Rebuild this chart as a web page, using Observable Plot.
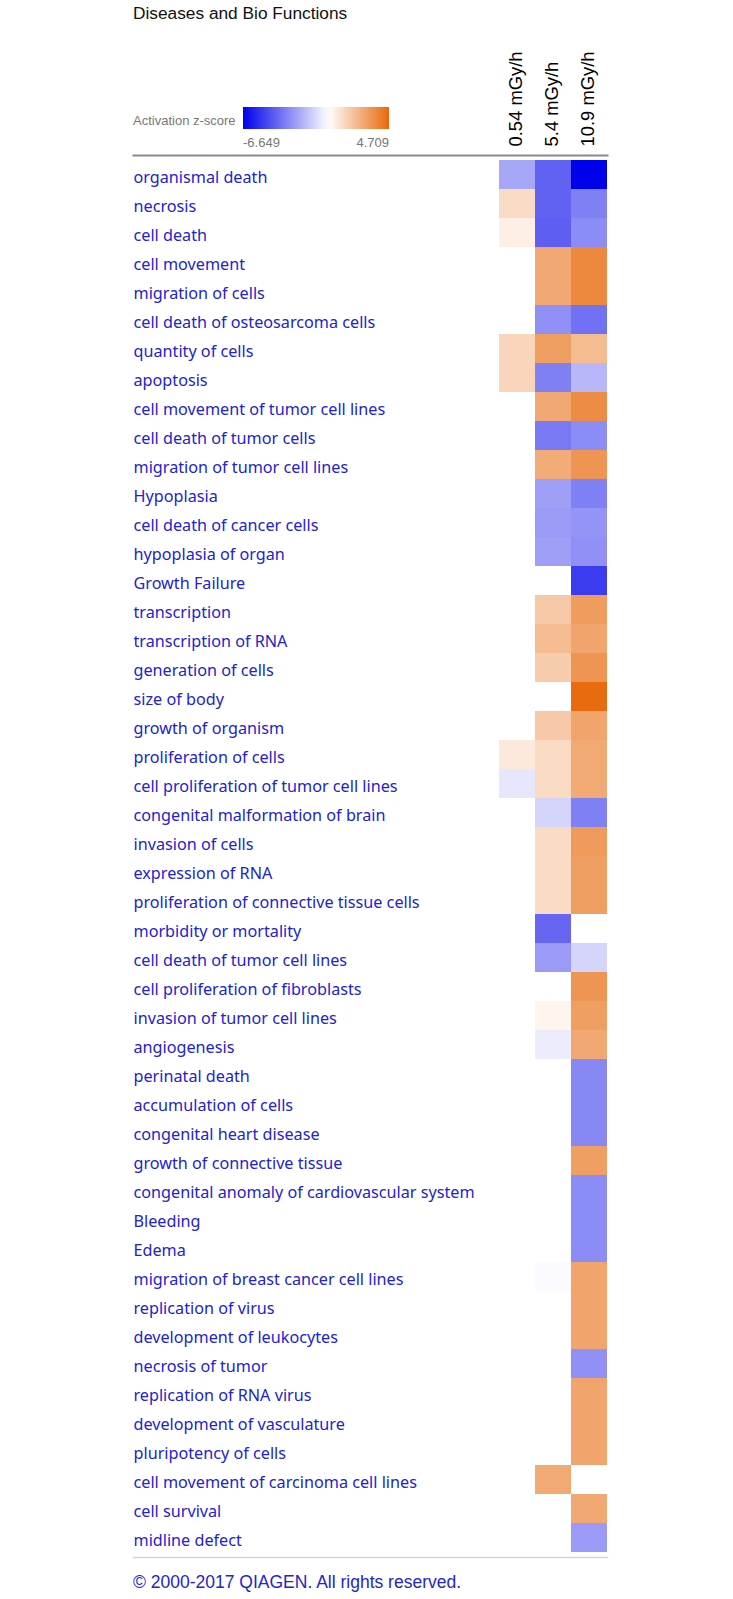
<!DOCTYPE html>
<html>
<head>
<meta charset="utf-8">
<script src="https://cdn.jsdelivr.net/npm/d3@7"></script>
<script src="https://cdn.jsdelivr.net/npm/@observablehq/plot@0.6"></script>
<style>
  body { margin: 0; background: #fff; }
  #wrap { position: relative; width: 733px; height: 1599px; overflow: hidden; }
  .abs { position: absolute; white-space: nowrap; }
  #title { left: 133px; top: 2.5px; font: 17.3px/20px Arial, "Liberation Sans", sans-serif; color: #111; }
  #legLabel { left: 133px; top: 112.5px; font: 13px/16px Arial, "Liberation Sans", sans-serif; color: #777; }
  #legBar { left: 243px; top: 107px; width: 146px; height: 22px; }
  #legMin { left: 243px; top: 135px; font: 13px/16px Arial, "Liberation Sans", sans-serif; color: #777; }
  #legMax { left: 289px; width: 100px; text-align: right; top: 135px; font: 13px/16px Arial, "Liberation Sans", sans-serif; color: #777; }
  #footer { left: 133px; top: 1572px; font: 17.5px/20px Arial, "Liberation Sans", sans-serif; color: #2424cc; }
  #chart { left: 0; top: 40px; }
</style>
</head>
<body>
<div id="wrap">
  <div id="title" class="abs">Diseases and Bio Functions</div>
  <div id="legLabel" class="abs">Activation z-score</div>
  <div id="legBar" class="abs"></div>
  <div id="legMin" class="abs"></div>
  <div id="legMax" class="abs"></div>
  <div id="chart" class="abs"></div>
  <div id="footer" class="abs">© 2000-2017 QIAGEN. All rights reserved.</div>
</div>
<script>
const terms = [
  "organismal death", "necrosis", "cell death", "cell movement", "migration of cells",
  "cell death of osteosarcoma cells", "quantity of cells", "apoptosis",
  "cell movement of tumor cell lines", "cell death of tumor cells",
  "migration of tumor cell lines", "Hypoplasia", "cell death of cancer cells",
  "hypoplasia of organ", "Growth Failure", "transcription", "transcription of RNA",
  "generation of cells", "size of body", "growth of organism", "proliferation of cells",
  "cell proliferation of tumor cell lines", "congenital malformation of brain",
  "invasion of cells", "expression of RNA", "proliferation of connective tissue cells",
  "morbidity or mortality", "cell death of tumor cell lines",
  "cell proliferation of fibroblasts", "invasion of tumor cell lines", "angiogenesis",
  "perinatal death", "accumulation of cells", "congenital heart disease",
  "growth of connective tissue", "congenital anomaly of cardiovascular system",
  "Bleeding", "Edema", "migration of breast cancer cell lines", "replication of virus",
  "development of leukocytes", "necrosis of tumor", "replication of RNA virus",
  "development of vasculature", "pluripotency of cells",
  "cell movement of carcinoma cell lines", "cell survival", "midline defect"
];
const doses = ["0.54 mGy/h", "5.4 mGy/h", "10.9 mGy/h"];

const zMin = -6.649;
const zMax = 4.709;

// z-scores per dose (null = not reported)
const z054 = [
  -2.3, 1.1, 0.5, null, null, null, 1.3, 1.3, null, null,
  null, null, null, null, null, null, null, null, null, null,
  0.7, -0.65, null, null, null, null, null, null, null, null,
  null, null, null, null, null, null, null, null, null, null,
  null, null, null, null, null, null, null, null
];
const z54 = [
  -4.1, -4.1, -4.2, 2.7, 2.7, -2.9, 3.0, -3.3, 2.7, -3.5,
  2.6, -2.5, -2.6, -2.5, null, 1.7, 2.1, 1.6, null, 1.7,
  1.15, 1.15, -1.1, 1.1, 1.1, 1.1, -4.0, -2.6, null, 0.3,
  -0.5, null, null, null, null, null, null, null, -0.1, null,
  null, null, null, null, null, 2.65, null, null
];
const z109 = [
  -6.649, -3.3, -3.0, 3.7, 3.7, -3.7, 2.1, -1.9, 3.6, -3.0,
  3.3, -3.3, -2.8, -2.9, -5.1, 3.1, 2.85, 3.3, 4.6, 2.85,
  2.65, 2.65, -3.3, 3.15, 3.0, 3.0, null, -1.1, 3.3, 3.0,
  2.7, -3.1, -3.1, -3.1, 3.0, -3.0, -3.0, -3.0, 2.85, 2.85,
  2.85, -2.9, 2.8, 2.8, 2.8, null, 2.7, -2.6
];

const series = [z054, z54, z109];
const cells = [];
series.forEach((vals, j) => {
  vals.forEach((v, i) => {
    if (v !== null) cells.push({dose: doses[j], term: terms[i], z: v});
  });
});

const plot = Plot.plot({
  width: 733,
  height: 1519,
  marginTop: 115,
  marginBottom: 2,
  marginLeft: 133,
  marginRight: 126,
  style: {background: "transparent", color: "#000"},
  x: {type: "band", domain: doses, range: [498, 607], padding: 0, label: null, axis: null},
  y: {type: "band", domain: terms, padding: 0, label: null, axis: null},
  color: {
    type: "linear",
    domain: [zMin, 0, zMax],
    range: ["#0000ea", "#ffffff", "#e8680a"],
    interpolate: "rgb"
  },
  marks: [
    Plot.frame({anchor: "top", stroke: "#8a8a8a", strokeWidth: 2}),
    Plot.frame({anchor: "bottom", stroke: "#d6d6d6", strokeWidth: 1.5}),
    Plot.cell(cells, {x: "dose", y: "term", fill: "z", inset: 0}),
    Plot.axisX({
      anchor: "top", tickSize: 0, tickPadding: 9, tickRotate: -90, dx: -1,
      fontSize: 18.4, fontFamily: "Arial, 'Liberation Sans', sans-serif", label: null
    }),
    Plot.text(terms, {
      y: d => d, frameAnchor: "left", textAnchor: "start", dy: 3,
      fill: "#2222d2", fontSize: 16.2, fontFamily: "'Noto Sans', sans-serif"
    })
  ]
});
document.getElementById("chart").appendChild(plot);

// legend built from the plot's color scale
const cs = plot.scale("color");
const stops = d3.range(0, 21).map(i => {
  const v = zMin + (zMax - zMin) * i / 20;
  return `${cs.apply(v)} ${(i * 5)}%`;
});
document.getElementById("legBar").style.background = `linear-gradient(to right, ${stops.join(", ")})`;
document.getElementById("legMin").textContent = String(zMin);
document.getElementById("legMax").textContent = String(zMax);
</script>
</body>
</html>
